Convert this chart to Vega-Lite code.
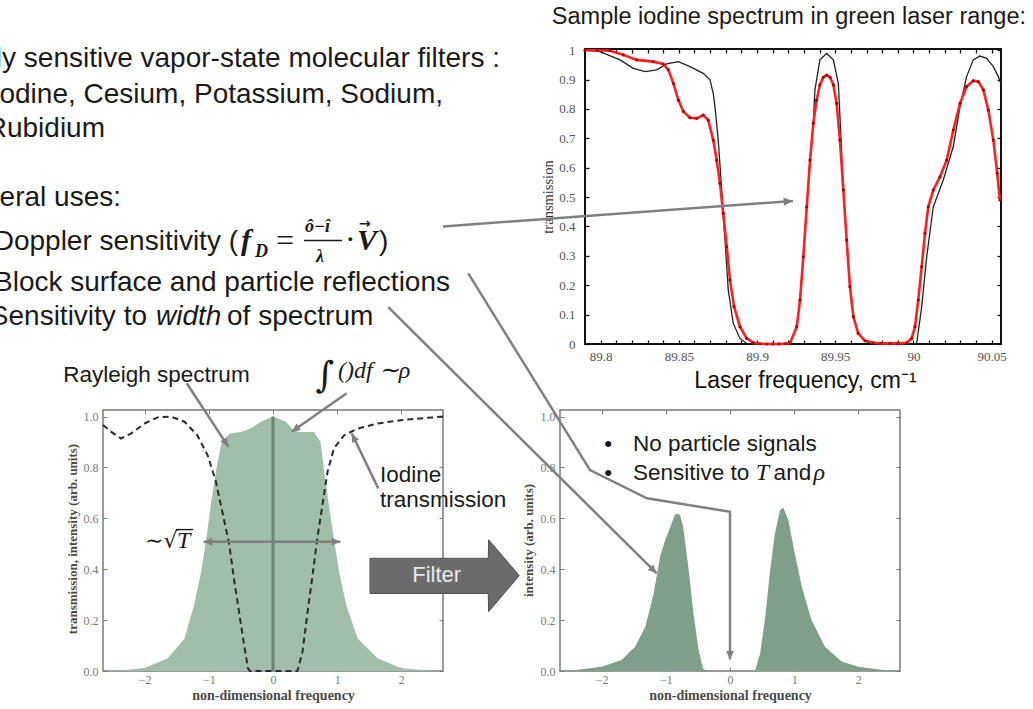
{
  "$schema": "https://vega.github.io/schema/vega-lite/v6.json",
  "background": "white",
  "padding": 0,
  "spacing": 0,
  "bounds": "flush",
  "config": {
    "view": {"stroke": null},
    "font": "Liberation Sans",
    "axis": {"grid": false, "domain": false, "labelFont": "Liberation Serif", "titleFont": "Liberation Serif", "labelOverlap": false, "labelFlush": false}
  },
  "vconcat": [
    {
      "bounds": "flush",
      "spacing": 0,
      "hconcat": [
        {
          "width": 540,
          "height": 360,
          "encoding": {
            "x": {"field": "x", "type": "quantitative", "scale": {"domain": [0, 540], "nice": false, "zero": false}, "axis": null},
            "y": {"field": "y", "type": "quantitative", "scale": {"domain": [0, 360], "nice": false, "zero": false, "reverse": true}, "axis": null}
          },
          "layer": [
            {
              "data": {"values": [
                {"x": 500, "y": 67.3, "s": "Highly sensitive vapor-state molecular filters :"},
                {"x": 443, "y": 102.7, "s": "Iodine, Cesium, Potassium, Sodium,"},
                {"x": 105, "y": 137.3, "s": "Rubidium"},
                {"x": 121, "y": 206, "s": "Several uses:"},
                {"x": 238, "y": 250, "s": "Doppler sensitivity ("},
                {"x": 450, "y": 291, "s": "Block surface and particle reflections"},
                {"x": 147, "y": 325, "s": "Sensitivity to"}
              ]},
              "mark": {"type": "text", "clip": true, "align": "right", "baseline": "alphabetic", "font": "Liberation Sans", "fontSize": 28, "color": "#1a1a1a"},
              "encoding": {"text": {"field": "s"}}
            },
            {
              "data": {"values": [{"x": 156, "y": 325, "s": "width"}]},
              "mark": {"type": "text", "clip": true, "align": "left", "baseline": "alphabetic", "font": "Liberation Sans", "fontStyle": "italic", "fontSize": 28, "color": "#1a1a1a"},
              "encoding": {"text": {"field": "s"}}
            },
            {
              "data": {"values": [{"x": 227, "y": 325, "s": "of spectrum"}, {"x": 379, "y": 250, "s": ")"}]},
              "mark": {"type": "text", "clip": true, "align": "left", "baseline": "alphabetic", "font": "Liberation Sans", "fontSize": 28, "color": "#1a1a1a"},
              "encoding": {"text": {"field": "s"}}
            },
            {
              "data": {"values": [{"x": 241, "y": 250, "s": "f"}, {"x": 357, "y": 250, "s": "V"}]},
              "mark": {"type": "text", "clip": true, "align": "left", "baseline": "alphabetic", "font": "Liberation Serif", "fontStyle": "italic", "fontWeight": "bold", "fontSize": 30, "color": "#1a1a1a"},
              "encoding": {"text": {"field": "s"}}
            },
            {
              "data": {"values": [{"x": 255, "y": 257, "s": "D"}, {"x": 305, "y": 232, "s": "ô−î"}, {"x": 316, "y": 262, "s": "λ"}]},
              "mark": {"type": "text", "clip": true, "align": "left", "baseline": "alphabetic", "font": "Liberation Serif", "fontStyle": "italic", "fontWeight": "bold", "fontSize": 18, "color": "#1a1a1a"},
              "encoding": {"text": {"field": "s"}}
            },
            {
              "data": {"values": [{"x": 276, "y": 251, "s": "="}, {"x": 345, "y": 250, "s": "·"}]},
              "mark": {"type": "text", "clip": true, "align": "left", "baseline": "alphabetic", "font": "Liberation Serif", "fontSize": 32, "color": "#1a1a1a"},
              "encoding": {"text": {"field": "s"}}
            },
            {
              "data": {"values": [{"x": 359, "y": 228, "s": "→"}]},
              "mark": {"type": "text", "clip": true, "align": "left", "baseline": "alphabetic", "font": "DejaVu Sans", "fontWeight": "bold", "fontSize": 14, "color": "#1a1a1a"},
              "encoding": {"text": {"field": "s"}}
            },
            {
              "data": {"values": [{"x": 304, "x2": 342, "y": 240.5}]},
              "mark": {"type": "rule", "clip": true, "color": "#1a1a1a", "strokeWidth": 1.6},
              "encoding": {"x2": {"field": "x2"}}
            }
          ]
        }
      ]
    },
    {"width": 1, "height": 49, "data": {"values": [{}]}, "mark": {"type": "text", "text": ""}},
    {
      "bounds": "flush",
      "spacing": 0,
      "hconcat": [
        {"width": 585, "height": 1, "data": {"values": [{}]}, "mark": {"type": "text", "text": ""}},
        {
          "width": 416,
          "height": 295,
          "view": {"stroke": "#111111", "strokeWidth": 2},
          "resolve": {"axis": {"x": "independent", "y": "independent"}},
          "layer": [
            {
              "encoding": {
                "x": {"field": "f", "type": "quantitative", "scale": {"domain": [89.79, 90.056], "nice": false, "zero": false},
                  "axis": {"values": [89.8, 89.81, 89.82, 89.83, 89.84, 89.85, 89.86, 89.87, 89.88, 89.89, 89.9, 89.91, 89.92, 89.93, 89.94, 89.95, 89.96, 89.97, 89.98, 89.99, 90, 90.01, 90.02, 90.03, 90.04, 90.05],
                    "labelExpr": "round(datum.value*100) % 5 === 0 ? format(datum.value, '~g') : ''",
                    "tickSize": -4, "tickColor": "#111111", "tickWidth": 1.3, "labelPadding": 10, "labelFontSize": 13, "labelColor": "#555555",
                    "title": "Laser frequency, cm⁻¹", "titleFont": "Liberation Sans", "titleFontSize": 23, "titleFontWeight": "normal", "titleColor": "#111111",
                    "titleX": 220, "titleY": 43, "titleBaseline": "alphabetic"}},
                "y": {"field": "t", "type": "quantitative", "scale": {"domain": [0, 1.004], "nice": false, "zero": false},
                  "axis": {"values": [0, 0.1, 0.2, 0.3, 0.4, 0.5, 0.6, 0.7, 0.8, 0.9, 1], "format": "~g",
                    "tickSize": -4, "tickColor": "#111111", "tickWidth": 1.3, "labelPadding": 14, "labelFontSize": 13, "labelColor": "#555555",
                    "title": "transmission", "titleFontSize": 14.5, "titleFontWeight": "normal", "titleColor": "#333333",
                    "titleX": -37, "titleY": 147.5, "titleBaseline": "middle"}}
              },
              "layer": [
                {
                  "data": {"values": [
                    {"f": 89.79, "t": 1.0}, {"f": 89.7996, "t": 0.995}, {"f": 89.8124, "t": 0.967}, {"f": 89.8209, "t": 0.938},
                    {"f": 89.8284, "t": 0.927}, {"f": 89.8358, "t": 0.933}, {"f": 89.8422, "t": 0.953}, {"f": 89.8497, "t": 0.961},
                    {"f": 89.8571, "t": 0.944}, {"f": 89.8656, "t": 0.921}, {"f": 89.8699, "t": 0.899}, {"f": 89.872, "t": 0.853},
                    {"f": 89.8731, "t": 0.808}, {"f": 89.8752, "t": 0.694}, {"f": 89.8774, "t": 0.524}, {"f": 89.8795, "t": 0.354},
                    {"f": 89.8816, "t": 0.184}, {"f": 89.8848, "t": 0.07}, {"f": 89.8891, "t": 0.019}, {"f": 89.8934, "t": 0.002},
                    {"f": 89.905, "t": 0}, {"f": 89.9211, "t": 0.003}, {"f": 89.9254, "t": 0.059}, {"f": 89.9275, "t": 0.15},
                    {"f": 89.9296, "t": 0.297}, {"f": 89.9318, "t": 0.467}, {"f": 89.9339, "t": 0.626}, {"f": 89.936, "t": 0.751},
                    {"f": 89.937, "t": 0.864}, {"f": 89.9402, "t": 0.967}, {"f": 89.9445, "t": 0.989}, {"f": 89.9488, "t": 0.967},
                    {"f": 89.952, "t": 0.887}, {"f": 89.9535, "t": 0.72}, {"f": 89.9552, "t": 0.524}, {"f": 89.9573, "t": 0.354},
                    {"f": 89.9594, "t": 0.195}, {"f": 89.9616, "t": 0.093}, {"f": 89.9647, "t": 0.036}, {"f": 89.969, "t": 0.011},
                    {"f": 89.975, "t": 0.002}, {"f": 89.99, "t": 0}, {"f": 90.0021, "t": 0.002}, {"f": 90.0053, "t": 0.127},
                    {"f": 90.0085, "t": 0.297}, {"f": 90.0127, "t": 0.467}, {"f": 90.0191, "t": 0.558}, {"f": 90.0255, "t": 0.672},
                    {"f": 90.0298, "t": 0.808}, {"f": 90.034, "t": 0.91}, {"f": 90.0383, "t": 0.967}, {"f": 90.0425, "t": 0.98},
                    {"f": 90.0468, "t": 0.972}, {"f": 90.0511, "t": 0.944}, {"f": 90.0543, "t": 0.91}, {"f": 90.056, "t": 0.885}
                  ]},
                  "mark": {"type": "line", "color": "#222222", "strokeWidth": 1.3}
                },
                {
                  "data": {"name": "measured"},
                  "mark": {"type": "line", "color": "#ff1f1f", "strokeWidth": 2.6}
                },
                {
                  "data": {"name": "measured"},
                  "mark": {"type": "point", "filled": true, "size": 10, "color": "#b00000", "opacity": 1}
                },
                {
                  "data": {"name": "topArrow"},
                  "mark": {"type": "rule", "color": "#808080", "strokeWidth": 2.5},
                  "encoding": {"x2": {"field": "f0"}, "y2": {"field": "t0"}}
                },
                {
                  "data": {"name": "topArrow"},
                  "transform": [{"calculate": "atan2((datum.f - datum.f0) * 1564, (datum.t - datum.t0) * 293.8) * 180 / PI", "as": "ang"}],
                  "mark": {"type": "point", "shape": "M0,0L-0.45,1L0.45,1Z", "filled": true, "size": 350, "color": "#808080", "opacity": 1},
                  "encoding": {"angle": {"field": "ang", "type": "quantitative", "scale": null}}
                },
                {
                  "data": {"values": [{"f": 89.9204, "t": 1.089, "s": "Sample iodine spectrum in green laser range:"}]},
                  "mark": {"type": "text", "align": "center", "baseline": "alphabetic", "font": "Liberation Sans", "fontSize": 23.5, "color": "#1a1a1a"},
                  "encoding": {"text": {"field": "s"}}
                }
              ]
            },
            {
              "data": {"values": [{"f": 89.9, "t": 0.5}]},
              "mark": {"type": "point", "opacity": 0},
              "encoding": {
                "x": {"field": "f", "type": "quantitative", "scale": {"domain": [89.79, 90.056], "nice": false, "zero": false},
                  "axis": {"orient": "top", "labels": false, "title": null, "tickSize": -4, "tickColor": "#111111", "tickWidth": 1.3,
                    "values": [89.8, 89.81, 89.82, 89.83, 89.84, 89.85, 89.86, 89.87, 89.88, 89.89, 89.9, 89.91, 89.92, 89.93, 89.94, 89.95, 89.96, 89.97, 89.98, 89.99, 90, 90.01, 90.02, 90.03, 90.04, 90.05]}},
                "y": {"field": "t", "type": "quantitative", "scale": {"domain": [0, 1.004], "nice": false, "zero": false},
                  "axis": {"orient": "right", "labels": false, "title": null, "tickSize": -4, "tickColor": "#111111", "tickWidth": 1.3,
                    "values": [0, 0.1, 0.2, 0.3, 0.4, 0.5, 0.6, 0.7, 0.8, 0.9, 1]}}
              }
            }
          ]
        }
      ]
    },
    {"width": 1, "height": 361, "data": {"values": [{}]}, "mark": {"type": "text", "text": ""}},
    {
      "bounds": "flush",
      "spacing": 0,
      "hconcat": [
        {"width": 103, "height": 1, "data": {"values": [{}]}, "mark": {"type": "text", "text": ""}},
        {
          "width": 340,
          "height": 261,
          "view": {"stroke": "#7a7a7a", "strokeWidth": 1.5},
          "resolve": {"axis": {"x": "independent", "y": "independent"}},
          "layer": [
            {
              "encoding": {
                "x": {"field": "x", "type": "quantitative", "scale": {"domain": [-2.65, 2.65], "nice": false, "zero": false},
                  "axis": {"values": [-2, -1, 0, 1, 2], "tickSize": -4, "tickColor": "#7a7a7a", "labelPadding": 7, "labelFontSize": 12, "labelColor": "#7a7a7a",
                    "title": "non-dimensional frequency", "titleFontSize": 14, "titleFontWeight": "bold", "titleColor": "#4a4a4a", "titleY": 24, "titleBaseline": "middle"}},
                "y": {"field": "y", "type": "quantitative", "scale": {"domain": [0, 1.026], "nice": false, "zero": false},
                  "axis": {"values": [0, 0.2, 0.4, 0.6, 0.8, 1], "format": ".1f", "tickSize": -4, "tickColor": "#7a7a7a", "labelPadding": 9, "labelFontSize": 12, "labelColor": "#7a7a7a",
                    "title": "transmission, intensity (arb. units)", "titleFontSize": 13, "titleFontWeight": "bold", "titleColor": "#4a4a4a", "titleX": -31, "titleY": 128.5, "titleBaseline": "middle"}}
              },
              "layer": [
                {
                  "data": {"values": [
                    {"x": -2.65, "y": 0}, {"x": -2.4, "y": 0.002}, {"x": -2.0, "y": 0.012}, {"x": -1.64, "y": 0.05},
                    {"x": -1.38, "y": 0.128}, {"x": -1.23, "y": 0.26}, {"x": -1.12, "y": 0.39}, {"x": -1.04, "y": 0.52},
                    {"x": -0.97, "y": 0.652}, {"x": -0.89, "y": 0.783}, {"x": -0.81, "y": 0.888}, {"x": -0.68, "y": 0.934},
                    {"x": -0.5, "y": 0.94}, {"x": -0.35, "y": 0.953}, {"x": -0.19, "y": 0.98}, {"x": 0, "y": 1.0},
                    {"x": 0.2, "y": 0.98}, {"x": 0.33, "y": 0.944}, {"x": 0.43, "y": 0.94}, {"x": 0.64, "y": 0.94},
                    {"x": 0.74, "y": 0.9}, {"x": 0.8, "y": 0.783}, {"x": 0.87, "y": 0.652}, {"x": 0.95, "y": 0.52},
                    {"x": 1.03, "y": 0.39}, {"x": 1.14, "y": 0.26}, {"x": 1.32, "y": 0.128}, {"x": 1.63, "y": 0.05},
                    {"x": 1.99, "y": 0.012}, {"x": 2.4, "y": 0.002}, {"x": 2.65, "y": 0}
                  ]},
                  "mark": {"type": "area", "color": "#a0bea9", "opacity": 1}
                },
                {
                  "data": {"values": [{"x": 0, "y": 0, "y2": 1.0}]},
                  "mark": {"type": "rule", "color": "#6c8274", "strokeWidth": 3},
                  "encoding": {"y2": {"field": "y2"}}
                },
                {
                  "data": {"values": [
                    {"x": -2.65, "y": 0.967}, {"x": -2.52, "y": 0.94}, {"x": -2.37, "y": 0.914}, {"x": -2.21, "y": 0.934},
                    {"x": -2.0, "y": 0.973}, {"x": -1.8, "y": 0.997}, {"x": -1.59, "y": 1.0}, {"x": -1.38, "y": 0.98},
                    {"x": -1.18, "y": 0.927}, {"x": -1.02, "y": 0.849}, {"x": -0.89, "y": 0.744}, {"x": -0.79, "y": 0.626},
                    {"x": -0.68, "y": 0.495}, {"x": -0.61, "y": 0.364}, {"x": -0.53, "y": 0.233}, {"x": -0.45, "y": 0.102},
                    {"x": -0.39, "y": 0.01}, {"x": -0.36, "y": 0}, {"x": 0.38, "y": 0}, {"x": 0.46, "y": 0.076},
                    {"x": 0.54, "y": 0.233}, {"x": 0.61, "y": 0.364}, {"x": 0.69, "y": 0.52}, {"x": 0.77, "y": 0.652},
                    {"x": 0.85, "y": 0.783}, {"x": 0.95, "y": 0.875}, {"x": 1.11, "y": 0.927}, {"x": 1.32, "y": 0.953},
                    {"x": 1.63, "y": 0.973}, {"x": 1.99, "y": 0.986}, {"x": 2.4, "y": 0.995}, {"x": 2.65, "y": 1.0}
                  ]},
                  "mark": {"type": "line", "color": "#2b2b2b", "strokeWidth": 2, "strokeDash": [6, 4]}
                },
                {
                  "data": {"name": "blArrows"},
                  "mark": {"type": "rule", "color": "#808080", "strokeWidth": 2.5},
                  "encoding": {"x2": {"field": "x0"}, "y2": {"field": "y0"}}
                },
                {
                  "data": {"name": "blArrows"},
                  "transform": [{"calculate": "atan2((datum.x - datum.x0) * 64.15, (datum.y - datum.y0) * 254.4) * 180 / PI", "as": "ang"}],
                  "mark": {"type": "point", "shape": "M0,0L-0.45,1L0.45,1Z", "filled": true, "size": 300, "color": "#808080", "opacity": 1},
                  "encoding": {"angle": {"field": "ang", "type": "quantitative", "scale": null}}
                },
                {
                  "data": {"values": [{"x": -1.512, "x2": -1.247, "y": 0.556}]},
                  "mark": {"type": "rule", "color": "#111111", "strokeWidth": 1.3},
                  "encoding": {"x2": {"field": "x2"}}
                },
                {
                  "data": {"values": [
                    {"x": -3.269, "y": 1.137, "s": "Rayleigh spectrum"},
                    {"x": 1.668, "y": 0.744, "s": "Iodine"},
                    {"x": 1.668, "y": 0.646, "s": "transmission"}
                  ]},
                  "mark": {"type": "text", "align": "left", "baseline": "alphabetic", "font": "Liberation Sans", "fontSize": 22.5, "color": "#1a1a1a"},
                  "encoding": {"text": {"field": "s"}}
                },
                {
                  "data": {"values": [{"x": 0.81, "y": 1.16, "s": "∫"}]},
                  "mark": {"type": "text", "align": "center", "baseline": "middle", "font": "DejaVu Serif", "fontSize": 36, "color": "#1a1a1a"},
                  "encoding": {"text": {"field": "s"}}
                },
                {
                  "data": {"values": [{"x": 1.013, "y": 1.15, "s": "()df ∼ρ"}, {"x": -1.497, "y": 0.482, "s": "T"}]},
                  "mark": {"type": "text", "align": "left", "baseline": "alphabetic", "font": "Liberation Serif", "fontStyle": "italic", "fontSize": 24, "color": "#1a1a1a"},
                  "encoding": {"text": {"field": "s"}}
                },
                {
                  "data": {"values": [{"x": -1.995, "y": 0.482, "s": "∼√"}]},
                  "mark": {"type": "text", "align": "left", "baseline": "alphabetic", "font": "DejaVu Serif", "fontSize": 22, "color": "#1a1a1a"},
                  "encoding": {"text": {"field": "s"}}
                },
                {
                  "data": {"values": [
                    {"x": 1.512, "y": 0.305, "y2": 0.443}, {"x": 3.356, "y": 0.305, "y2": 0.443},
                    {"x": 3.361, "y": 0.233, "y2": 0.516}, {"x": 3.839, "y": 0.375, "y2": 0.375}
                  ]},
                  "mark": {"type": "area", "color": "#6b6b6b", "stroke": "#505050", "strokeWidth": 1, "opacity": 1},
                  "encoding": {"y2": {"field": "y2"}}
                },
                {
                  "data": {"values": [{"x": 2.552, "y": 0.377, "s": "Filter"}]},
                  "mark": {"type": "text", "align": "center", "baseline": "middle", "font": "Liberation Sans", "fontSize": 22, "color": "#e8e8e8"},
                  "encoding": {"text": {"field": "s"}}
                }
              ]
            },
            {
              "data": {"values": [{"x": 0, "y": 0}]},
              "mark": {"type": "point", "opacity": 0},
              "encoding": {
                "x": {"field": "x", "type": "quantitative", "scale": {"domain": [-2.65, 2.65], "nice": false, "zero": false},
                  "axis": {"orient": "top", "labels": false, "title": null, "values": [-2, -1, 0, 1, 2], "tickSize": -4, "tickColor": "#7a7a7a"}},
                "y": {"field": "y", "type": "quantitative", "scale": {"domain": [0, 1.026], "nice": false, "zero": false},
                  "axis": {"orient": "right", "labels": false, "title": null, "values": [0, 0.2, 0.4, 0.6, 0.8, 1], "tickSize": -4, "tickColor": "#7a7a7a"}}
              }
            }
          ]
        },
        {"width": 117, "height": 1, "data": {"values": [{}]}, "mark": {"type": "text", "text": ""}},
        {
          "width": 340,
          "height": 261,
          "view": {"stroke": "#7a7a7a", "strokeWidth": 1.5},
          "resolve": {"axis": {"x": "independent", "y": "independent"}},
          "layer": [
            {
              "encoding": {
                "x": {"field": "x", "type": "quantitative", "scale": {"domain": [-2.65, 2.65], "nice": false, "zero": false},
                  "axis": {"values": [-2, -1, 0, 1, 2], "tickSize": -4, "tickColor": "#7a7a7a", "labelPadding": 7, "labelFontSize": 12, "labelColor": "#7a7a7a",
                    "title": "non-dimensional frequency", "titleFontSize": 14, "titleFontWeight": "bold", "titleColor": "#4a4a4a", "titleY": 24, "titleBaseline": "middle"}},
                "y": {"field": "y", "type": "quantitative", "scale": {"domain": [0, 1.026], "nice": false, "zero": false},
                  "axis": {"values": [0, 0.2, 0.4, 0.6, 0.8, 1], "format": ".1f", "tickSize": -4, "tickColor": "#7a7a7a", "labelPadding": 9, "labelFontSize": 12, "labelColor": "#7a7a7a",
                    "title": "intensity (arb. units)", "titleFontSize": 13, "titleFontWeight": "bold", "titleColor": "#4a4a4a", "titleX": -32, "titleY": 130, "titleBaseline": "middle"}}
              },
              "layer": [
                {
                  "data": {"values": [
                    {"x": -2.65, "y": 0}, {"x": -2.4, "y": 0.004}, {"x": -2.0, "y": 0.017}, {"x": -1.69, "y": 0.043},
                    {"x": -1.48, "y": 0.095}, {"x": -1.32, "y": 0.174}, {"x": -1.19, "y": 0.305}, {"x": -1.09, "y": 0.449},
                    {"x": -1.01, "y": 0.515}, {"x": -0.93, "y": 0.567}, {"x": -0.86, "y": 0.613}, {"x": -0.82, "y": 0.618},
                    {"x": -0.78, "y": 0.613}, {"x": -0.73, "y": 0.567}, {"x": -0.65, "y": 0.41}, {"x": -0.57, "y": 0.227},
                    {"x": -0.49, "y": 0.083}, {"x": -0.42, "y": 0.01}, {"x": -0.36, "y": 0}, {"x": 0.39, "y": 0},
                    {"x": 0.47, "y": 0.07}, {"x": 0.55, "y": 0.213}, {"x": 0.62, "y": 0.384}, {"x": 0.7, "y": 0.541},
                    {"x": 0.78, "y": 0.633}, {"x": 0.83, "y": 0.643}, {"x": 0.91, "y": 0.593}, {"x": 1.01, "y": 0.462},
                    {"x": 1.12, "y": 0.331}, {"x": 1.27, "y": 0.2}, {"x": 1.48, "y": 0.095}, {"x": 1.74, "y": 0.037},
                    {"x": 2.0, "y": 0.017}, {"x": 2.4, "y": 0.004}, {"x": 2.65, "y": 0}
                  ]},
                  "mark": {"type": "area", "color": "#7f9f8b", "opacity": 1}
                },
                {
                  "data": {"values": [
                    {"p": 1, "i": 0, "x": -4.08, "y": 1.563}, {"p": 1, "i": 1, "x": -2.182, "y": 0.79},
                    {"p": 1, "i": 2, "x": -1.294, "y": 0.679}, {"p": 1, "i": 3, "x": 0, "y": 0.626},
                    {"p": 1, "i": 4, "x": 0, "y": 0.045},
                    {"p": 2, "i": 0, "x": -5.327, "y": 1.43}, {"p": 2, "i": 1, "x": -1.143, "y": 0.384}
                  ]},
                  "mark": {"type": "line", "color": "#808080", "strokeWidth": 2.5},
                  "encoding": {"detail": {"field": "p"}, "order": {"field": "i", "type": "quantitative"}}
                },
                {
                  "data": {"values": [
                    {"x": 0, "y": 0.045, "x0": 0, "y0": 0.626},
                    {"x": -1.143, "y": 0.384, "x0": -5.327, "y0": 1.43}
                  ]},
                  "transform": [{"calculate": "atan2((datum.x - datum.x0) * 64.15, (datum.y - datum.y0) * 254.4) * 180 / PI", "as": "ang"}],
                  "mark": {"type": "point", "shape": "M0,0L-0.45,1L0.45,1Z", "filled": true, "size": 300, "color": "#808080", "opacity": 1},
                  "encoding": {"angle": {"field": "ang", "type": "quantitative", "scale": null}}
                },
                {
                  "data": {"values": [
                    {"x": -1.897, "y": 0.865, "s": "•"},
                    {"x": -1.897, "y": 0.751, "s": "•"}
                  ]},
                  "mark": {"type": "text", "align": "center", "baseline": "alphabetic", "font": "Liberation Sans", "fontSize": 22.5, "color": "#1a1a1a"},
                  "encoding": {"text": {"field": "s"}}
                },
                {
                  "data": {"values": [
                    {"x": -1.512, "y": 0.865, "s": "No particle signals"},
                    {"x": -1.512, "y": 0.751, "s": "Sensitive to"},
                    {"x": 0.68, "y": 0.751, "s": "and"}
                  ]},
                  "mark": {"type": "text", "align": "left", "baseline": "alphabetic", "font": "Liberation Sans", "fontSize": 22.5, "color": "#1a1a1a"},
                  "encoding": {"text": {"field": "s"}}
                },
                {
                  "data": {"values": [
                    {"x": 0.4, "y": 0.751, "s": "T"},
                    {"x": 1.3, "y": 0.751, "s": "ρ"}
                  ]},
                  "mark": {"type": "text", "align": "left", "baseline": "alphabetic", "font": "Liberation Serif", "fontStyle": "italic", "fontSize": 24, "color": "#1a1a1a"},
                  "encoding": {"text": {"field": "s"}}
                }
              ]
            },
            {
              "data": {"values": [{"x": 0, "y": 0}]},
              "mark": {"type": "point", "opacity": 0},
              "encoding": {
                "x": {"field": "x", "type": "quantitative", "scale": {"domain": [-2.65, 2.65], "nice": false, "zero": false},
                  "axis": {"orient": "top", "labels": false, "title": null, "values": [-2, -1, 0, 1, 2], "tickSize": -4, "tickColor": "#7a7a7a"}},
                "y": {"field": "y", "type": "quantitative", "scale": {"domain": [0, 1.026], "nice": false, "zero": false},
                  "axis": {"orient": "right", "labels": false, "title": null, "values": [0, 0.2, 0.4, 0.6, 0.8, 1], "tickSize": -4, "tickColor": "#7a7a7a"}}
              }
            }
          ]
        }
      ]
    }
  ],
  "datasets": {
    "measured": [
      {"f": 89.79, "t": 1.0}, {"f": 89.798, "t": 1.0}, {"f": 89.806, "t": 0.998}, {"f": 89.8145, "t": 0.984},
      {"f": 89.823, "t": 0.967}, {"f": 89.8337, "t": 0.961}, {"f": 89.84, "t": 0.953}, {"f": 89.8433, "t": 0.933},
      {"f": 89.8465, "t": 0.887}, {"f": 89.8497, "t": 0.83}, {"f": 89.8529, "t": 0.791}, {"f": 89.8571, "t": 0.77},
      {"f": 89.8614, "t": 0.768}, {"f": 89.8656, "t": 0.779}, {"f": 89.8688, "t": 0.762}, {"f": 89.872, "t": 0.694},
      {"f": 89.8742, "t": 0.626}, {"f": 89.8763, "t": 0.547}, {"f": 89.8784, "t": 0.445}, {"f": 89.8806, "t": 0.331},
      {"f": 89.8827, "t": 0.218}, {"f": 89.8853, "t": 0.127}, {"f": 89.8891, "t": 0.059}, {"f": 89.8934, "t": 0.019},
      {"f": 89.8976, "t": 0.004}, {"f": 89.902, "t": 0.001}, {"f": 89.9062, "t": 0}, {"f": 89.91, "t": 0},
      {"f": 89.914, "t": 0}, {"f": 89.918, "t": 0.001}, {"f": 89.9211, "t": 0.003}, {"f": 89.9254, "t": 0.059},
      {"f": 89.9275, "t": 0.15}, {"f": 89.9296, "t": 0.297}, {"f": 89.9318, "t": 0.467}, {"f": 89.9339, "t": 0.626},
      {"f": 89.936, "t": 0.751}, {"f": 89.9381, "t": 0.83}, {"f": 89.9402, "t": 0.882}, {"f": 89.9424, "t": 0.908},
      {"f": 89.9445, "t": 0.915}, {"f": 89.9467, "t": 0.908}, {"f": 89.9488, "t": 0.882}, {"f": 89.9509, "t": 0.819},
      {"f": 89.953, "t": 0.694}, {"f": 89.9552, "t": 0.524}, {"f": 89.9573, "t": 0.354}, {"f": 89.9594, "t": 0.195},
      {"f": 89.9616, "t": 0.093}, {"f": 89.9647, "t": 0.036}, {"f": 89.969, "t": 0.011}, {"f": 89.9743, "t": 0.004},
      {"f": 89.979, "t": 0.002}, {"f": 89.985, "t": 0.002}, {"f": 89.99, "t": 0.002}, {"f": 89.9957, "t": 0.004},
      {"f": 89.9989, "t": 0.019}, {"f": 90.001, "t": 0.059}, {"f": 90.0031, "t": 0.15}, {"f": 90.0053, "t": 0.263},
      {"f": 90.0074, "t": 0.377}, {"f": 90.0095, "t": 0.467}, {"f": 90.0127, "t": 0.524}, {"f": 90.017, "t": 0.569},
      {"f": 90.0213, "t": 0.626}, {"f": 90.0255, "t": 0.728}, {"f": 90.0298, "t": 0.819}, {"f": 90.034, "t": 0.876},
      {"f": 90.0383, "t": 0.896}, {"f": 90.0415, "t": 0.893}, {"f": 90.0447, "t": 0.865}, {"f": 90.0479, "t": 0.796},
      {"f": 90.0511, "t": 0.694}, {"f": 90.0536, "t": 0.581}, {"f": 90.0553, "t": 0.49}
    ],
    "topArrow": [{"f": 89.923, "t": 0.4867, "f0": 89.6992, "t0": 0.4}],
    "blArrows": [
      {"x": -0.697, "y": 0.882, "x0": -1.345, "y0": 1.131},
      {"x": 0.291, "y": 0.9406, "x0": 1.149, "y0": 1.0916},
      {"x": 1.227, "y": 0.934, "x0": 1.641, "y0": 0.718},
      {"x": -1.08, "y": 0.508, "x0": 0, "y0": 0.508},
      {"x": 1.05, "y": 0.508, "x0": 0, "y0": 0.508}
    ]
  }
}
